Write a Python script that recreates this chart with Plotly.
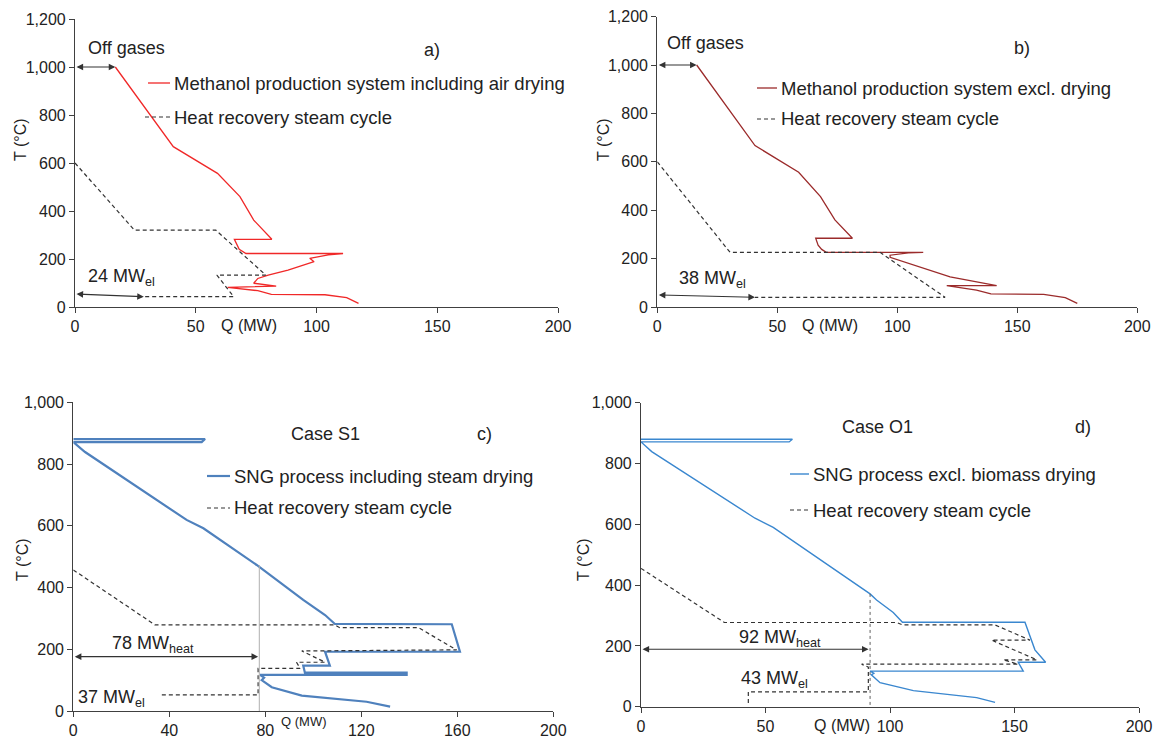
import plotly.graph_objects as go

# page is drawn with the browser's default 8px body margin
PAGE_W, PAGE_H, OFF = 1163, 742, 8
W, H = PAGE_W - OFF, PAGE_H - OFF

# ---------------- data ----------------
# a) Methanol production system including air drying
qa_proc = [16.7, 40.7, 59, 68.3, 74, 81.5, 66, 68, 70.8, 111, 104.9, 97.2, 99, 88.2, 80, 75.7, 74, 83.3, 63.2, 75.7, 81.3, 103.5, 112.5, 117.4]
ta_proc = [1000, 668, 557, 460, 362, 282, 282, 240, 223, 223, 217, 203, 189, 154, 133, 119, 99, 87, 82, 68, 53, 51, 39, 15]
qa_hrsc = [0, 24.6, 58.3, 79, 58.75, 65.7, 28.5]
ta_hrsc = [600, 320, 320, 133, 133, 43, 43]

# b) Methanol production system excl. drying
qb_proc = [16.4, 40.7, 58.9, 68, 74, 81.3, 66, 67, 68.5, 70.4, 110.8, 104.6, 97, 97, 122, 141.4, 120.6, 133, 139, 161, 170, 175]
tb_proc = [1000, 667, 557, 456, 360, 284, 284, 255, 238, 226, 226, 224, 214, 205, 124, 88, 88, 70, 54, 52, 39, 15]
qb_hrsc = [0, 30.3, 92.8, 119.9, 40.7]
tb_hrsc = [600, 226, 226, 40, 40]

# c) Case S1 - SNG process including steam drying
qc_proc = [0, 54.9, 53.5, 0, 4.9, 47.2, 54.2, 76.4, 95.8, 104.9, 109, 157.7, 161.1, 104.9, 106.9, 95.8, 96.5, 138.9, 138.9, 77.8, 79.5, 78.5, 82.7, 95.2, 122.2, 132]
tc_proc = [881, 881, 871, 871, 839, 619, 592, 473, 360, 311, 282, 281, 192, 192, 147, 147, 124, 124, 117, 117, 108, 100, 77, 50, 30, 14]
qc_hrsc = [0, 34, 109, 111, 143.8, 159.7, 95.2, 104.9, 93, 94.5, 77, 77, 36]
tc_hrsc = [457, 279, 279, 270, 270, 198, 194.5, 158, 158, 138, 138, 52, 52]

# d) Case O1 - SNG process excl. biomass drying
qd_proc = [0, 60.8, 59.5, 0, 4.3, 45.8, 53.1, 92, 94.6, 101.3, 105, 154.2, 158.2, 162.5, 151.5, 153.5, 92, 93.5, 92.5, 96, 109.4, 134.8, 142.2]
td_proc = [880, 880, 871, 871, 839, 620, 590, 371, 351, 310, 278, 278, 187, 146, 146, 117, 117, 110, 105, 79, 53, 30, 14]
qd_hrsc = [0, 33.5, 102.7, 105, 142.2, 156.2, 140.8, 159, 145.5, 151.4, 88.6, 91.3, 91.3, 43.1, 43.1]
td_hrsc = [455, 277, 277, 269, 269, 219, 219, 154, 154, 140, 140, 130, 49, 49, 11]

# energy annotations
offgas_a = 16.7
offgas_b = 16.4
el_a, el_b = 28.5, 40.7
heat_c, heat_d = 77, 91.4
guide_c, guide_d = 77.5, 92

# ---------------- layout helpers (page pixels -> paper) ----------------
def px(x):
    return (x - OFF) / W

def py(y):
    return 1 - (y - OFF) / H

FONT = "Liberation Sans, Arial, sans-serif"
AX = "#404040"
DASH_C = "#333333"
RED_A = "#F02828"
RED_B = "#9B2B2B"
BLUE_C = "#4F81BD"
BLUE_D = "#3A87CF"

fig = go.Figure()

panels = {
    "a": dict(xa="x", ya="y", xd=[px(75), px(558)], yd=[py(307), py(19)], yr=1200, xdt=50),
    "b": dict(xa="x2", ya="y2", xd=[px(657.3), px(1137.3)], yd=[py(307), py(16.6)], yr=1200, xdt=50),
    "c": dict(xa="x3", ya="y3", xd=[px(73.3), px(553.3)], yd=[py(711), py(402.3)], yr=1000, xdt=40),
    "d": dict(xa="x4", ya="y4", xd=[px(641), px(1139)], yd=[py(706.7), py(402.7)], yr=1000, xdt=50),
}

def add_line(p, q, t, color, width, dash="solid"):
    fig.add_trace(go.Scatter(x=q, y=t, mode="lines", xaxis=panels[p]["xa"], yaxis=panels[p]["ya"],
                             line=dict(color=color, width=width, dash=dash), showlegend=False,
                             hoverinfo="skip"))

add_line("a", qa_proc, ta_proc, RED_A, 1.3)
add_line("a", qa_hrsc, ta_hrsc, DASH_C, 1.2, "4px,3px")
add_line("b", qb_proc, tb_proc, RED_B, 1.3)
add_line("b", qb_hrsc, tb_hrsc, DASH_C, 1.2, "4px,3px")
add_line("c", qc_proc, tc_proc, BLUE_C, 2.2)
add_line("c", qc_hrsc, tc_hrsc, DASH_C, 1.2, "4px,3px")
add_line("d", qd_proc, td_proc, BLUE_D, 1.4)
add_line("d", qd_hrsc, td_hrsc, DASH_C, 1.2, "4px,3px")

# guide verticals
add_line("c", [guide_c, guide_c], [473, 0], "#B0B0B0", 1)
add_line("d", [guide_d, guide_d], [371, 0], "#606060", 1, "dot")

layout_axes = {}
for i, (k, p) in enumerate(panels.items()):
    n = "" if i == 0 else str(i + 1)
    layout_axes["xaxis" + n] = dict(domain=p["xd"], anchor=p["ya"], range=[0, 200], dtick=p["xdt"],
                                    automargin=False,
                                    showgrid=False, zeroline=False, showline=True, linecolor=AX, linewidth=1.2,
                                    ticks="outside", ticklen=5, tickcolor=AX,
                                    tickfont=dict(family=FONT, size=16, color="#222"))
    layout_axes["yaxis" + n] = dict(domain=p["yd"], anchor=p["xa"], range=[0, p["yr"]], dtick=200,
                                    automargin=False,
                                    tickformat=",d", showgrid=False, zeroline=False, showline=True,
                                    linecolor=AX, linewidth=1.2, ticks="outside", ticklen=5, tickcolor=AX,
                                    tickfont=dict(family=FONT, size=16, color="#222"))

annotations = []
shapes = []

def text(p, x, y, s, size=18, xanchor="center"):
    annotations.append(dict(xref=panels[p]["xa"], yref=panels[p]["ya"], x=x, y=y, text=s, showarrow=False,
                            xanchor=xanchor, yanchor="middle", font=dict(family=FONT, size=size, color="#222")))

def ptext(x, y, s, size=18, xanchor="left", angle=0):
    annotations.append(dict(xref="paper", yref="paper", x=px(x), y=py(y), text=s, showarrow=False,
                            xanchor=xanchor, yanchor="middle", textangle=angle,
                            font=dict(family=FONT, size=size, color="#222")))

def arrow(p, x0, y0, x1, y1):
    annotations.append(dict(xref=panels[p]["xa"], yref=panels[p]["ya"], axref=panels[p]["xa"],
                            ayref=panels[p]["ya"], x=x1, y=y1, ax=x0, ay=y0, text="", showarrow=True,
                            arrowhead=2, startarrowhead=2, arrowside="end+start", arrowsize=1.2,
                            startarrowsize=1.2, arrowwidth=1.1, arrowcolor="#333",
                            standoff=0, startstandoff=0))

def legend_entry(x0, x1, y, color, width, dash, label):
    shapes.append(dict(type="line", xref="paper", yref="paper", x0=px(x0), x1=px(x1), y0=py(y), y1=py(y),
                       line=dict(color=color, width=width, dash=dash)))
    ptext(x1 + 2, y, label, 18.5)

# panel a
arrow("a", 0, 1000, offgas_a, 1000)
text("a", 4.5, 1079, "Off gases", xanchor="left")
text("a", 148, 1071, "a)")
arrow("a", 0, 54, el_a, 43)
text("a", 4.7, 121, "24 MW<sub>el</sub>", xanchor="left")
legend_entry(148, 170, 83, RED_A, 1.3, "solid", "Methanol production system including air drying")
legend_entry(145, 170, 117, DASH_C, 1.2, "4px,3px", "Heat recovery steam cycle")
ptext(20, 140, "T (°C)", 16, "center", -90)
ptext(249, 325, "Q (MW)", 16, "center")

# panel b
arrow("b", 0, 1000, offgas_b, 1000)
text("b", 3.2, 1090, "Off gases", xanchor="left")
text("b", 152, 1070, "b)")
arrow("b", 0, 50, el_b, 40)
text("b", 8, 112, "38 MW<sub>el</sub>", xanchor="left")
legend_entry(757, 777, 88, RED_B, 1.3, "solid", "Methanol production system excl. drying")
legend_entry(757, 777, 119, DASH_C, 1.2, "4px,3px", "Heat recovery steam cycle")
ptext(603, 140, "T (°C)", 16, "center", -90)
ptext(830, 325, "Q (MW)", 16, "center")

# panel c
text("c", 105, 898, "Case S1")
text("c", 171.5, 898, "c)")
arrow("c", 0, 176, heat_c, 176)
text("c", 33, 214, "78 MW<sub>heat</sub>")
text("c", 16, 39, "37 MW<sub>el</sub>")
legend_entry(207, 230, 476, BLUE_C, 2.2, "solid", "SNG process including steam drying")
legend_entry(207, 230, 508, DASH_C, 1.2, "4px,3px", "Heat recovery steam cycle")
ptext(22, 560, "T (°C)", 16, "center", -90)
ptext(303, 721, "Q (MW)", 13, "center")

# panel d
text("d", 95, 921, "Case O1")
text("d", 177.5, 921, "d)")
arrow("d", 0, 189, heat_d, 189)
text("d", 55.8, 223, "92 MW<sub>heat</sub>")
text("d", 53.8, 91, "43 MW<sub>el</sub>")
legend_entry(790, 809, 474, BLUE_D, 1.4, "solid", "SNG process excl. biomass drying")
legend_entry(790, 809, 510, DASH_C, 1.2, "4px,3px", "Heat recovery steam cycle")
ptext(583, 560, "T (°C)", 16, "center", -90)
ptext(842, 725, "Q (MW)", 16, "center")

fig.update_layout(width=W, height=H, margin=dict(l=0, r=0, t=0, b=0), plot_bgcolor="white",
                  paper_bgcolor="white", showlegend=False, annotations=annotations, shapes=shapes,
                  font=dict(family=FONT), **layout_axes)

fig.write_html("out.html")
